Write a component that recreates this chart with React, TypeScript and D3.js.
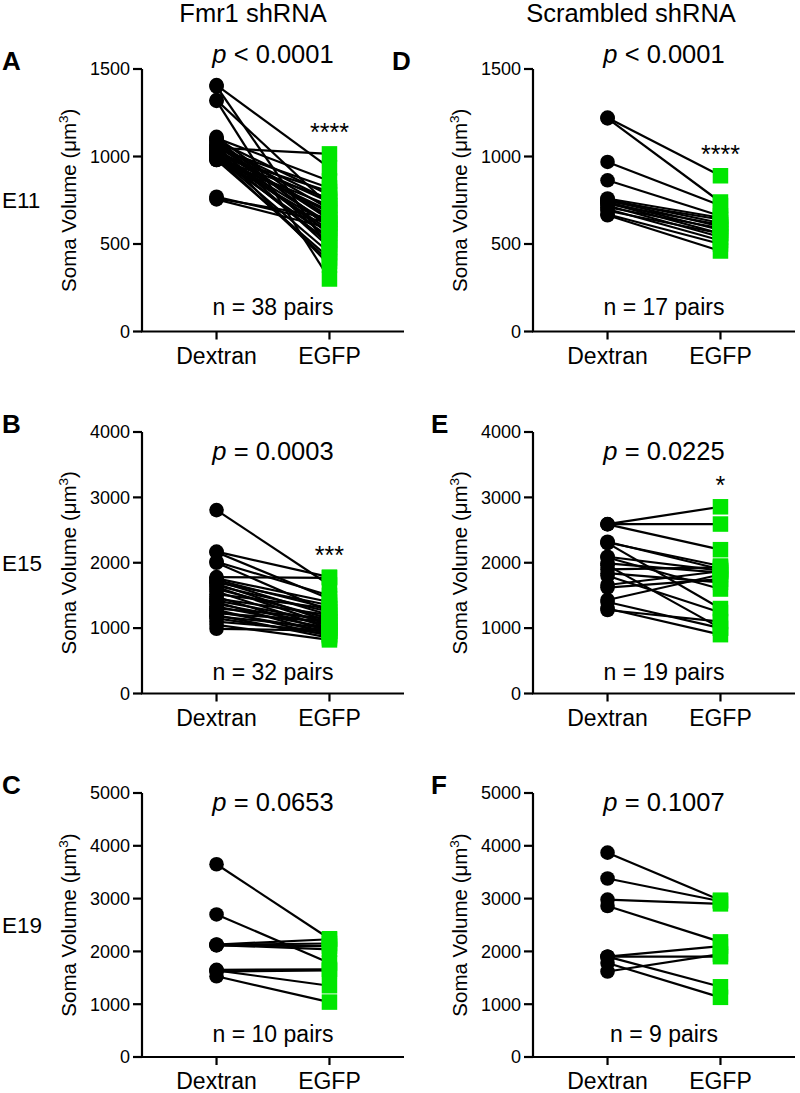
import React from 'react';
import * as d3 from 'd3';

const categories = ['Dextran', 'EGFP'];

// Panel A: E11 Fmr1 shRNA
const dextranA = [1408, 1400, 1322, 1318, 1112, 1105, 1095, 1090, 1080, 1070, 1060, 1050, 1046, 1040, 1035, 1030, 1020, 1015, 1010, 1005, 1000, 995, 990, 988, 985, 980, 1000, 1060, 1025, 1065, 1010, 995, 1100, 980, 770, 760, 755, 1040];
const egfpA = [935, 470, 720, 300, 640, 860, 520, 780, 600, 700, 480, 1015, 820, 560, 660, 740, 500, 620, 580, 800, 450, 690, 540, 760, 610, 420, 680, 640, 560, 750, 510, 400, 590, 720, 620, 650, 590, 380];
// Panel D: E11 Scrambled shRNA
const dextranD = [1222, 1218, 969, 864, 760, 755, 750, 745, 740, 735, 730, 720, 710, 700, 690, 670, 664];
const egfpD = [890, 740, 720, 660, 650, 620, 600, 640, 580, 560, 610, 540, 590, 520, 560, 500, 460];
// Panel B: E15 Fmr1 shRNA
const dextranB = [2805, 2170, 2160, 2015, 2000, 1780, 1760, 1740, 1720, 1700, 1680, 1650, 1630, 1600, 1560, 1520, 1480, 1450, 1420, 1400, 1370, 1330, 1300, 1280, 1250, 1230, 1200, 1180, 1150, 1100, 1050, 990];
const egfpB = [1660, 1780, 1450, 1500, 1250, 1770, 1400, 1300, 1200, 1350, 1100, 1250, 1050, 1150, 1000, 1300, 950, 1200, 1100, 900, 1050, 1000, 1150, 880, 950, 1100, 850, 1000, 900, 950, 820, 960];
// Panel E: E15 Scrambled shRNA
const dextranE = [2592, 2590, 2588, 2321, 2310, 2300, 2092, 2080, 1990, 1960, 1900, 1840, 1800, 1660, 1620, 1430, 1400, 1300, 1277];
const egfpE = [2856, 2592, 2200, 1900, 1950, 1300, 1880, 1598, 1850, 1000, 1930, 1700, 1240, 1870, 1750, 1820, 1000, 900, 1100];
// Panel C: E19 Fmr1 shRNA
const dextranC = [3650, 2700, 2130, 2125, 2120, 2115, 1650, 1640, 1620, 1530];
const egfpC = [2240, 1780, 2230, 2150, 2040, 2100, 1660, 1350, 1640, 1040];
// Panel F: E19 Scrambled shRNA
const dextranF = [3870, 3380, 2980, 2860, 1900, 1620, 1900, 1900, 1780];
const egfpF = [2970, 2950, 2900, 2180, 2100, 1950, 1900, 1330, 1130];

const columnTitles = ['Fmr1 shRNA', 'Scrambled shRNA'];
const rowLabels = ['E11', 'E15', 'E19'];
const rowMax = [1500, 4000, 5000];
const rowTicks = [
  [0, 500, 1000, 1500],
  [0, 1000, 2000, 3000, 4000],
  [0, 1000, 2000, 3000, 4000, 5000],
];

const panels = [
  { letter: 'A', col: 0, row: 0, dex: dextranA, egfp: egfpA, op: '<', p: '0.0001', n: 'n = 38 pairs', stars: '****' },
  { letter: 'D', col: 1, row: 0, dex: dextranD, egfp: egfpD, op: '<', p: '0.0001', n: 'n = 17 pairs', stars: '****' },
  { letter: 'B', col: 0, row: 1, dex: dextranB, egfp: egfpB, op: '=', p: '0.0003', n: 'n = 32 pairs', stars: '***' },
  { letter: 'E', col: 1, row: 1, dex: dextranE, egfp: egfpE, op: '=', p: '0.0225', n: 'n = 19 pairs', stars: '*' },
  { letter: 'C', col: 0, row: 2, dex: dextranC, egfp: egfpC, op: '=', p: '0.0653', n: 'n = 10 pairs', stars: '' },
  { letter: 'F', col: 1, row: 2, dex: dextranF, egfp: egfpF, op: '=', p: '0.1007', n: 'n = 9 pairs', stars: '' },
];

// layout
const rowTop = [69, 432, 793];
const rowBottom = [331.5, 693.5, 1057];
const pBase = [63, 460, 811];
const nBase = [315, 680, 1042];
const colAxis = [142, 533];
const colEnd = [404, 795];
const letterX = [[2, 2, 2], [392, 431, 431]];
const titleX = [253, 631];

const FONT = "'Liberation Sans', Arial, Helvetica, sans-serif";
const GREEN = '#00e600';

function Panel({ cfg }: { cfg: typeof panels[number] }) {
  const top = rowTop[cfg.row];
  const bottom = rowBottom[cfg.row];
  const x0 = colAxis[cfg.col];
  const x1 = colEnd[cfg.col];
  const y = d3.scaleLinear().domain([0, rowMax[cfg.row]]).range([bottom, top]);
  const x = d3.scalePoint<string>().domain(categories).range([x0, x1]).padding(0.66);
  const xd = x('Dextran') as number;
  const xe = x('EGFP') as number;
  const mid = (xd + xe) / 2;
  const sq = 15.5;
  const maxE = d3.max(cfg.egfp) as number;
  const yMid = (top + bottom) / 2;
  return (
    <g>
      <text x={letterX[cfg.col][cfg.row]} y={top + 1} fontSize={26} fontWeight="bold" fontFamily={FONT}>{cfg.letter}</text>
      <text transform={`translate(${x0 - 66},${yMid}) rotate(-90)`} textAnchor="middle" fontSize={20.5} fontFamily={FONT}>
        Soma Volume (μm<tspan fontSize={13.5} dy={-8}>3</tspan><tspan dy={8}>)</tspan>
      </text>
      {cfg.dex.map((d, i) => (
        <line key={'l' + i} x1={xd} y1={y(d)} x2={xe} y2={y(cfg.egfp[i])} stroke="#000" strokeWidth={2.2} />
      ))}
      {cfg.dex.map((d, i) => (
        <circle key={'c' + i} cx={xd} cy={y(d)} r={7.3} fill="#000" />
      ))}
      {cfg.egfp.map((d, i) => (
        <rect key={'s' + i} x={xe - sq / 2} y={y(d) - sq / 2} width={sq} height={sq} fill={GREEN} />
      ))}
      <line x1={x0} y1={top} x2={x0} y2={bottom} stroke="#000" strokeWidth={2.2} />
      <line x1={x0 - 1} y1={bottom} x2={x1} y2={bottom} stroke="#000" strokeWidth={2.2} />
      {rowTicks[cfg.row].map((t) => (
        <g key={'t' + t}>
          <line x1={x0 - 9} x2={x0} y1={y(t)} y2={y(t)} stroke="#000" strokeWidth={2.2} />
          <text x={x0 - 12} y={y(t)} dy="0.35em" textAnchor="end" fontSize={18} fontFamily={FONT}>{t}</text>
        </g>
      ))}
      {categories.map((c) => (
        <g key={c}>
          <line x1={x(c) as number} x2={x(c) as number} y1={bottom} y2={bottom + 8} stroke="#000" strokeWidth={2.2} />
          <text x={x(c) as number} y={bottom + 32} textAnchor="middle" fontSize={23} fontFamily={FONT}>{c}</text>
        </g>
      ))}
      <text x={mid} y={pBase[cfg.row]} textAnchor="middle" fontSize={25.5} fontFamily={FONT}>
        <tspan fontStyle="italic">p</tspan> {cfg.op} {cfg.p}
      </text>
      <text x={mid} y={nBase[cfg.row]} textAnchor="middle" fontSize={23} fontFamily={FONT}>{cfg.n}</text>
      {cfg.stars && (
        <text x={xe} y={y(maxE) - 13} textAnchor="middle" fontSize={25} fontFamily={FONT}>{cfg.stars}</text>
      )}
    </g>
  );
}

export default function App() {
  return (
    <svg width={800} height={1093} style={{ position: 'absolute', left: 0, top: 0, display: 'block', background: '#fff' }}>
      <rect width={800} height={1093} fill="#fff" />
      {columnTitles.map((t, i) => (
        <text key={t} x={titleX[i]} y={22} textAnchor="middle" fontSize={25.5} fontFamily={FONT}>{t}</text>
      ))}
      {rowLabels.map((r, i) => (
        <text key={r} x={2} y={(rowTop[i] + rowBottom[i]) / 2 + 8} fontSize={22.5} fontFamily={FONT}>{r}</text>
      ))}
      {panels.map((p) => (
        <Panel key={p.letter} cfg={p} />
      ))}
    </svg>
  );
}
